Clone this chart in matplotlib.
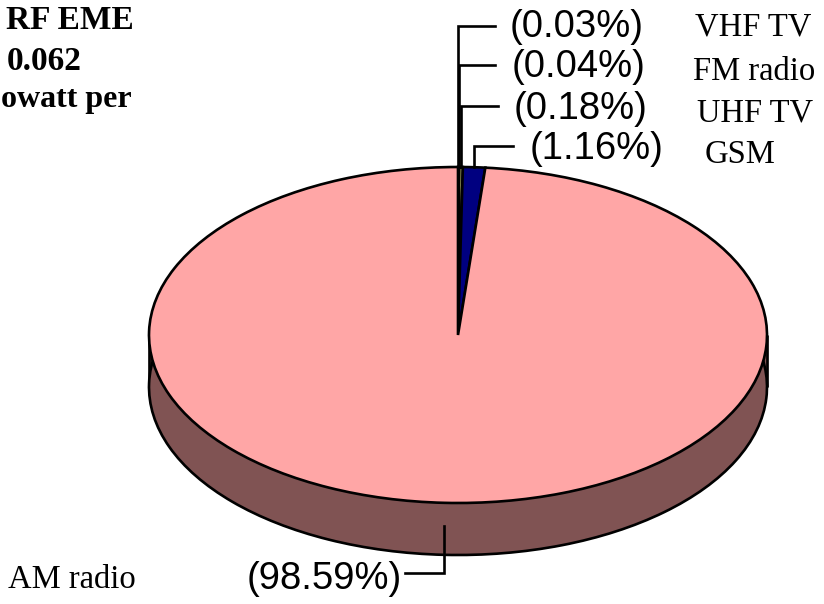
import matplotlib
matplotlib.use("Agg")
import matplotlib.pyplot as plt
import numpy as np

# ---- data ----
categories = ["VHF TV", "FM radio", "UHF TV", "GSM", "AM radio"]
shares = [0.03, 0.04, 0.18, 1.16, 98.59]
pct_labels = ["(0.03%)", "(0.04%)", "(0.18%)", "(1.16%)", "(98.59%)"]
title_lines = ["RF EME", "0.062", "owatt per"]

top_colors = ["#9999FF", "#993366", "#FFFF99", "#000080", "#FFA6A6"]
side_colors = ["#4C4C80", "#4C1A33", "#80804C", "#000040", "#805353"]

# ---- geometry (pixels) ----
W, H = 824, 604
CX, CY = 458, 335       # pie centre
A, B = 309, 168         # ellipse half axes
DEPTH = 52              # side wall depth

def X(px):
    return (px - CX) / A

def Y(py):
    return (CY - py) / B

d = DEPTH / B

fig = plt.figure(figsize=(W / 100, H / 100), dpi=100)
ax = fig.add_axes([0, 0, 1, 1])

LW = 1.9
wp = dict(edgecolor="black", linewidth=LW)
# bottom face
ax.pie(shares, colors=side_colors, startangle=90, counterclock=False,
       center=(0, -d), radius=1, wedgeprops=wp)
# side band
ax.fill_between([-1, 1], -d, 0, color=side_colors[-1], zorder=0.5)
ax.vlines([-1, 1], -d, 0, colors="black", linewidth=LW, zorder=0.6)
# top face
ax.pie(shares, colors=top_colors, startangle=90, counterclock=False,
       center=(0, 0), radius=1, wedgeprops=wp)

ax.set_aspect("auto")
ax.set_xlim(X(0), X(W))
ax.set_ylim(Y(H), Y(0))
ax.axis("off")

# ---- leaders and labels ----
cum = np.cumsum([0] + shares[:-1])
mid = (cum + np.array(shares) / 2) / 100 * 2 * np.pi   # clockwise from top

line_rows = [26, 65, 106, 146]
line_ends = [495, 495, 498, 513]
pct_x = [510, 512, 514, 530]
pct_base = [37, 77, 119, 159]
cat_x = [695, 693, 697, 705]
cat_base = [35, 80, 122, 163]

sans = ["Liberation Sans", "DejaVu Sans"]
serif = ["Liberation Serif", "DejaVu Serif"]

for i in range(4):
    x0 = np.sin(mid[i])
    y0 = np.cos(mid[i])
    ax.plot([x0, x0, X(line_ends[i])], [y0, Y(line_rows[i]), Y(line_rows[i])],
            color="black", linewidth=LW, solid_joinstyle="miter")
    ax.text(X(pct_x[i]), Y(pct_base[i]), pct_labels[i], family=sans,
            fontsize=27.5, ha="left", va="baseline")
    ax.text(X(cat_x[i]), Y(cat_base[i]), categories[i], family=serif,
            fontsize=23.5, ha="left", va="baseline")

# AM radio leader (from the side wall)
xa = np.sin(mid[4])
ax.plot([xa, xa, X(405)], [-1 - d * 0.45, Y(573), Y(573)],
        color="black", linewidth=LW, solid_joinstyle="miter")
ax.text(X(247), Y(589), pct_labels[4], family=sans, fontsize=27.5,
        ha="left", va="baseline")
ax.text(X(8), Y(588), categories[4], family=serif, fontsize=23.5,
        ha="left", va="baseline")

# partially visible title
title_x = [6, 7, 1]
title_base = [29, 70, 107]
title_sizes = [24, 24, 23]
for t, tx, tb, ts in zip(title_lines, title_x, title_base, title_sizes):
    ax.text(X(tx), Y(tb), t, family=serif, fontweight="bold", fontsize=ts,
            ha="left", va="baseline")

fig.savefig("out.png", dpi=100)
